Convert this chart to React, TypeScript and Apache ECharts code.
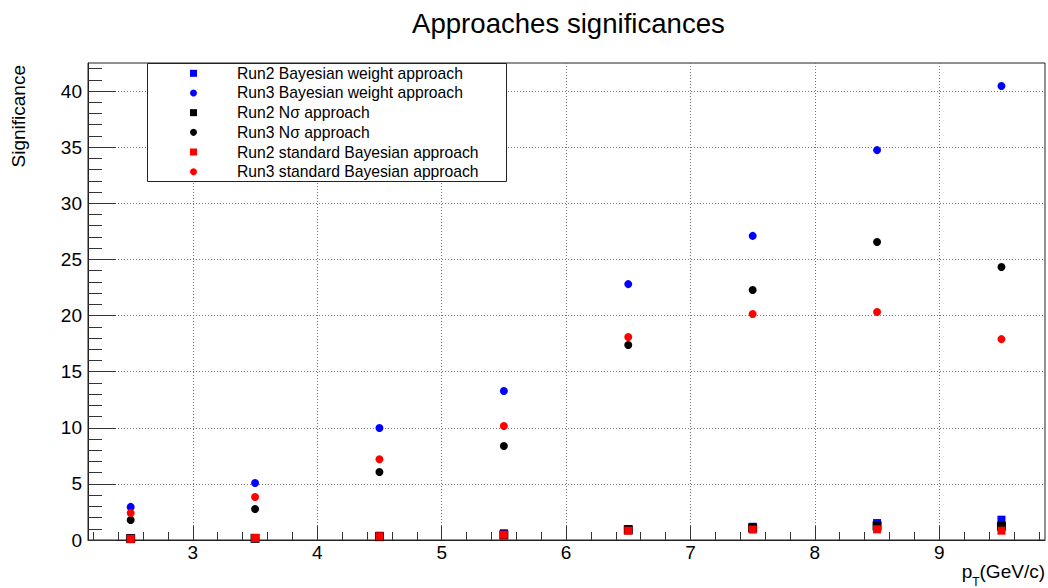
import React, { useEffect, useRef } from "react";
import * as echarts from "echarts";

// pT bin centres (GeV/c)
const ptBins = [2.5, 3.5, 4.5, 5.5, 6.5, 7.5, 8.5, 9.5];

// Significance per approach
const run2BayesWeight = [0.15, 0.17, 0.38, 0.6, 0.98, 1.18, 1.51, 1.81];
const run3BayesWeight = [2.95, 5.08, 9.98, 13.27, 22.8, 27.1, 34.74, 40.45];
const run2NSigma = [0.12, 0.15, 0.3, 0.45, 0.9, 1.07, 1.25, 1.22];
const run3NSigma = [1.78, 2.76, 6.06, 8.37, 17.37, 22.27, 26.55, 24.32];
const run2StdBayes = [0.1, 0.18, 0.33, 0.47, 0.83, 0.93, 0.95, 0.83];
const run3StdBayes = [2.4, 3.83, 7.2, 10.16, 18.08, 20.13, 20.31, 17.9];

// Axis ticks
const xMajorTicks = [3, 4, 5, 6, 7, 8, 9];
const yMajorTicks = [0, 5, 10, 15, 20, 25, 30, 35, 40];
const X_MIN = 2.157;
const X_MAX = 9.85;
const Y_MIN = 0;
const Y_MAX = 42.5;

const FONT = "'Liberation Sans', Arial, Helvetica, sans-serif";

function minorTicks(lo: number, hi: number, step: number, majors: number[]) {
  const out: number[] = [];
  const start = Math.ceil(lo / step - 1e-9);
  for (let k = start; k * step <= hi + 1e-9; k++) {
    const v = Math.round(k * step * 1000) / 1000;
    if (!majors.some((m) => Math.abs(m - v) < 1e-6)) out.push(v);
  }
  return out;
}

const pairs = (ys: number[]) => ptBins.map((x, i) => [x, ys[i]]);

export default function App() {
  const ref = useRef<HTMLDivElement>(null);

  useEffect(() => {
    if (!ref.current) return;
    const chart = echarts.init(ref.current, undefined, { renderer: "svg" });

    const axisColor = "#222";
    const gridLine = { show: true, lineStyle: { color: "#777", width: 1, type: [1, 2] as any } };

    const seriesDefs = [
      { name: "Run2 Bayesian weight approach", data: run2BayesWeight, color: "#0000ff", symbol: "rect", size: 8 },
      { name: "Run3 Bayesian weight approach", data: run3BayesWeight, color: "#0000ff", symbol: "circle", size: 8 },
      { name: "Run2 N\u03c3 approach", data: run2NSigma, color: "#000000", symbol: "rect", size: 9 },
      { name: "Run3 N\u03c3 approach", data: run3NSigma, color: "#000000", symbol: "circle", size: 8 },
      { name: "Run2 standard Bayesian approach", data: run2StdBayes, color: "#ff0000", symbol: "rect", size: 8 },
      { name: "Run3 standard Bayesian approach", data: run3StdBayes, color: "#ff0000", symbol: "circle", size: 8 },
    ];

    chart.setOption({
      animation: false,
      backgroundColor: "#ffffff",
      textStyle: { fontFamily: FONT },
      title: {
        text: "Approaches significances",
        left: 407,
        top: 4,
        textStyle: { fontFamily: FONT, fontSize: 27.6, fontWeight: "normal", color: "#000" },
      },
      grid: {
        left: 88,
        right: 3,
        top: 63,
        bottom: 48,
        show: true,
        borderColor: axisColor,
        borderWidth: 1,
        backgroundColor: "#fff",
      },
      legend: {
        orient: "vertical",
        left: 190,
        top: 65.3,
        padding: 0,
        itemGap: 3.68,
        itemWidth: 7,
        itemHeight: 7,
        z: 6,
        data: seriesDefs.map((s) => ({ name: s.name, icon: s.symbol })),
        formatter: (name: string) => `{t|${name}}`,
        textStyle: {
          fontFamily: FONT,
          fontSize: 15.7,
          color: "#000",
          rich: { t: { fontFamily: FONT, fontSize: 15.7, lineHeight: 16, color: "#000", padding: [0, 0, 0, 35] } },
        },
      },
      xAxis: [
        {
          type: "value",
          min: X_MIN,
          max: X_MAX,
          axisLine: { show: true, onZero: false, lineStyle: { color: axisColor } },
          axisTick: { show: true, inside: true, length: 14, customValues: xMajorTicks, lineStyle: { color: "#333" } },
          axisLabel: { show: true, customValues: xMajorTicks, margin: 3, fontSize: 19, color: "#000", fontFamily: FONT },
          splitLine: { ...gridLine, customValues: xMajorTicks } as any,
        },
        {
          type: "value",
          min: X_MIN,
          max: X_MAX,
          position: "bottom",
          axisLine: { show: false },
          axisLabel: { show: false },
          splitLine: { show: false },
          axisTick: {
            show: true,
            inside: true,
            length: 8,
            customValues: minorTicks(X_MIN, X_MAX, 0.2, xMajorTicks),
            lineStyle: { color: "#333" },
          },
        },
      ],
      yAxis: [
        {
          type: "value",
          min: Y_MIN,
          max: Y_MAX,
          interval: 5,
          axisLine: { show: true, onZero: false, lineStyle: { color: axisColor } },
          axisTick: { show: true, inside: true, length: 28, customValues: yMajorTicks, lineStyle: { color: "#333" } },
          axisLabel: { show: true, customValues: yMajorTicks, margin: 6, fontSize: 19, color: "#000", fontFamily: FONT },
          splitLine: { ...gridLine, customValues: yMajorTicks } as any,
        },
        {
          type: "value",
          min: Y_MIN,
          max: Y_MAX,
          position: "left",
          offset: 0,
          axisLine: { show: false },
          axisLabel: { show: false },
          splitLine: { show: false },
          axisTick: {
            show: true,
            inside: true,
            length: 14,
            customValues: minorTicks(Y_MIN, Y_MAX, 1, yMajorTicks),
            lineStyle: { color: "#333" },
          },
        },
      ],
      graphic: [
        {
          type: "rect",
          z: 5,
          shape: { x: 147.5, y: 63.5, width: 359, height: 118 },
          style: { fill: "#fff", stroke: "#222", lineWidth: 1 },
        },
        {
          type: "text",
          x: 18,
          y: 65,
          rotation: Math.PI / 2,
          style: {
            text: "Significance",
            font: `19px ${FONT}`,
            fill: "#000",
            align: "right",
            verticalAlign: "middle",
          },
        },
        {
          type: "text",
          x: 1045,
          y: 562,
          style: {
            text: "{p|p}{s|T}{p|(GeV/c)}",
            align: "right",
            verticalAlign: "top",
            fill: "#000",
            rich: {
              p: { fontFamily: FONT, fontSize: 19, fill: "#000", color: "#000", verticalAlign: "top" },
              s: { fontFamily: FONT, fontSize: 12, fill: "#000", color: "#000", padding: [14, 0, 0, 0], verticalAlign: "top" },
            },
          } as any,
        },
      ],
      series: seriesDefs.map((s) => ({
        name: s.name,
        type: "scatter",
        symbol: s.symbol,
        symbolSize: s.size,
        xAxisIndex: 0,
        yAxisIndex: 0,
        itemStyle: { color: s.color, opacity: 1 },
        data: pairs(s.data),
      })),
    });

    return () => chart.dispose();
  }, []);

  return (
    <div
      ref={ref}
      style={{ position: "absolute", left: 0, top: 0, width: 1048, height: 588 }}
    />
  );
}
